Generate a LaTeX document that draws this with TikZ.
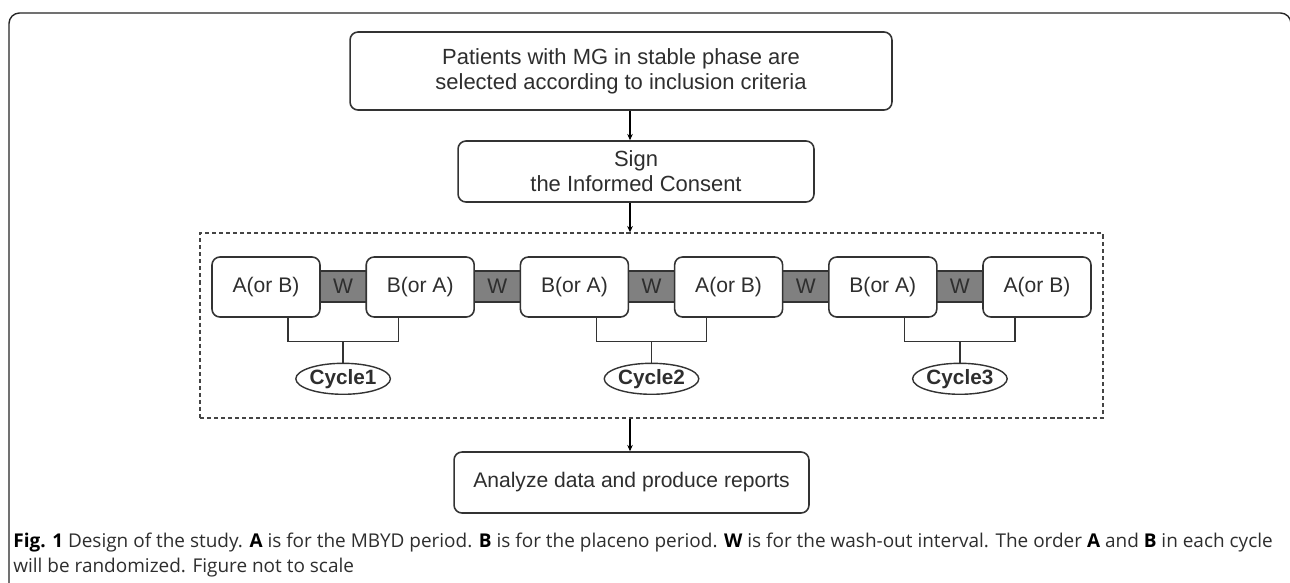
\documentclass[tikz,border=0pt]{standalone}
\usepackage{fontspec}
\setmainfont{Liberation Sans}
\newfontfamily\capfont{Open Sans}
\usetikzlibrary{arrows.meta,calc,shapes.geometric}
\definecolor{linec}{HTML}{333333}
\definecolor{txtc}{HTML}{2E2E2E}
\definecolor{wfill}{HTML}{808080}
\definecolor{dashc}{HTML}{444444}
\begin{document}
\begin{tikzpicture}[x=0.02cm,y=-0.02cm,
  box/.style={draw=linec, line width=0.9pt, rounded corners=4.5pt, fill=white,
    text=txtc, align=center, inner sep=0pt, font=\fontsize{12.5}{14.3}\selectfont},
  period/.style={box, minimum width=2.16cm, minimum height=1.2cm, font=\fontsize{12}{14}\selectfont},
  wband/.style={draw=linec, line width=0.9pt, fill=wfill, text=txtc, inner sep=0pt,
    minimum width=0.96cm, minimum height=0.62cm, font=\fontsize{12}{14}\selectfont},
  cyc/.style={ellipse, draw=linec, line width=0.8pt, fill=white, inner sep=0pt,
    minimum width=1.7cm, minimum height=0.62cm, text=txtc, font=\fontsize{11.8}{13}\selectfont\bfseries},
  arr/.style={draw=black, line width=0.6pt, -{Stealth[length=3.6pt,width=3.2pt]}},
  brk/.style={draw=linec, line width=0.7pt},
  dashbox/.style={draw=dashc, line width=0.8pt, dash pattern=on 2.3pt off 1.7pt,
    inner sep=0pt, minimum width=18.06cm, minimum height=3.7cm},
  captxt/.style={anchor=base west, inner sep=0pt, text=txtc, font=\capfont\fontsize{10.8}{13}\selectfont}
]
\useasboundingbox (0,0) rectangle (1290,582);
\clip (0,0) rectangle (1290,582);
\fill[white] (0,0) rectangle (1290,582);
% outer frame
\draw[line width=0.8pt, draw=black!85, rounded corners=6pt] (9,640) -- (9,13) -- (1291,13) -- (1291,640);

% top boxes
\node[box, minimum width=10.84cm, minimum height=1.56cm] (b1) at (621,71)
  {Patients with MG in stable phase are\\selected according to inclusion criteria};
\node[box, minimum width=7.12cm, minimum height=1.22cm] (b2) at (636,171.5)
  {Sign\\the Informed Consent};
\node[dashbox] (dbox) at (651.5,325.5) {};
\node[box, minimum width=7.1cm, minimum height=1.22cm, font=\fontsize{12}{14}\selectfont] (b3) at (631.5,482.5)
  {Analyze data and produce reports};
\coordinate (ax) at (630,0);

% W bands
\node[wband] (w1) at (343.1,286.5) {W};
\node[wband] (w2) at (497.3,286.5) {W};
\node[wband] (w3) at (651.5,286.5) {W};
\node[wband] (w4) at (805.7,286.5) {W};
\node[wband] (w5) at (959.9,286.5) {W};

% period boxes
\node[period] (p1) at (266,287) {A(or B)};
\node[period] (p2) at (420.2,287) {B(or A)};
\node[period] (p3) at (574.4,287) {B(or A)};
\node[period] (p4) at (728.6,287) {A(or B)};
\node[period] (p5) at (882.8,287) {B(or A)};
\node[period] (p6) at (1037,287) {A(or B)};

% brackets and cycles
\foreach \a/\b/\n in {p1/p2/1, p3/p4/2, p5/p6/3}{
  \path ($(\a.south)!0.5!(\b.south)$) ++(0,24) coordinate (m\n);
  \node[cyc] (c\n) at ($(m\n)+(0,37)$) {Cycle\n};
  \draw[brk] ($(\a.south)+(22,0)$) |- (m\n) -| ($(\b.south)+(-22,0)$);
  \draw[brk] (m\n) -- (c\n.north);
}

% arrows
\draw[arr] (b1.south -| ax) -- (b2.north -| ax);
\draw[arr] (b2.south -| ax) -- (dbox.north -| ax);
\draw[arr] (dbox.south -| ax) -- (b3.north -| ax);

% caption
\node[captxt] (cap1) at (13,547) {\textbf{\color{black}Fig. 1} Design of the study. \textbf{\color{black}A} is for the MBYD period. \textbf{\color{black}B} is for the placeno period. \textbf{\color{black}W} is for the wash-out interval. The order \textbf{\color{black}A} and \textbf{\color{black}B} in each cycle};
\node[captxt] (cap2) at (13,572) {will be randomized. Figure not to scale};
\end{tikzpicture}
\end{document}
